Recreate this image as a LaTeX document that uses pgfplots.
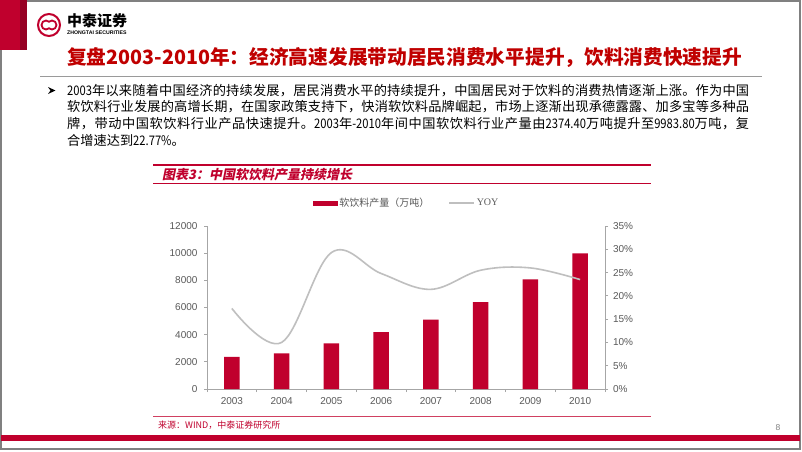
\documentclass[border=0pt]{standalone}
\usepackage{pgfplots}
\pgfplotsset{compat=1.18}
\usepackage{fontspec}
\setmainfont{Liberation Sans}
\newfontfamily\cjk{Noto Sans CJK SC}
\newfontfamily\cjkn{Noto Sans CJK SC}[FakeStretch=0.85]
\newfontfamily\cjkit{Noto Sans CJK SC}[FakeSlant=0.2]
\newfontfamily\serif{Liberation Serif}
\definecolor{barred}{RGB}{192,0,45}
\definecolor{titlered}{RGB}{192,0,0}
\definecolor{linegray}{RGB}{191,191,191}
\definecolor{axisgray}{RGB}{166,166,166}
\definecolor{labelgray}{RGB}{89,89,89}
\definecolor{framegray}{RGB}{128,128,128}

\newcount\cc
\XeTeXinterchartokenstate=1
\ifdefined\newXeTeXintercharclass
  \newXeTeXintercharclass\cjkclass
\else
  \chardef\cjkclass=1
\fi
\def\setcls#1#2{\cc=#1 \loop \XeTeXcharclass\cc=\cjkclass \ifnum\cc<#2 \advance\cc by 1 \repeat}
\setcls{"4E00}{"9FFF}
\setcls{"3000}{"303F}
\setcls{"FF00}{"FFEF}
\XeTeXinterchartoks\cjkclass\cjkclass={\hskip0pt plus 1pt}
\XeTeXinterchartoks 0 \cjkclass={\hskip0pt plus 1pt}
\XeTeXinterchartoks \cjkclass 0={\hskip0pt plus 1pt}

\begin{document}
\begin{tikzpicture}
\path[use as bounding box] (0pt,0pt) rectangle (802pt,-451pt);
\fill[white] (0pt,0pt) rectangle (802pt,-451pt);
\begin{scope}[x=1pt,y=-1pt]
  % frame
  \draw[framegray, line width=1.3pt] (1,1) rectangle (800,449);
  \fill[barred] (0,0) rectangle (27,50);
  \fill[barred!78!black] (20,0) rectangle (27,50);
  % logo
  \draw[barred, line width=2pt] (49,25) circle (11pt);
  \draw[barred, line width=1.8pt] (46,25) ++(45:4.5pt) arc[start angle=45, end angle=315, radius=4.5pt];
  \draw[barred, line width=1.8pt] (52,25) ++(225:4.5pt) arc[start angle=225, end angle=495, radius=4.5pt];
  \node[anchor=west, inner sep=0pt, font=\cjk\bfseries\fontsize{15}{15}\selectfont] at (67,21) {中泰证券};
  \node[anchor=west, inner sep=0pt, font=\bfseries\fontsize{5.2}{6}\selectfont] at (67,33) {ZHONGTAI SECURITIES};
  % title
  \node[anchor=west, inner sep=0pt, text=titlered, font=\cjk\bfseries\fontsize{19.7}{20}\selectfont] at (67,57.5) {\hbox to 668pt{复盘2003-2010年：经济高速发展带动居民消费水平提升，饮料消费快速提升}};
  \draw[framegray!80, line width=1.6pt] (40,76.5) -- (762,76.5);
  % bullet text
  \fill[black] (48,87) -- (55.5,90.5) -- (48,94) -- (50.5,90.5) -- cycle;
  \node[anchor=west, inner sep=0pt, font=\cjk\fontsize{13.2}{14}\selectfont] at (67,90.5) {\hbox to 682pt{{\cjkn 2003}年以来随着中国经济的持续发展，居民消费水平的持续提升，中国居民对于饮料的消费热情逐渐上涨。作为中国}};
  \node[anchor=west, inner sep=0pt, font=\cjk\fontsize{13.2}{14}\selectfont] at (67,107) {\hbox to 682pt{软饮料行业发展的高增长期，在国家政策支持下，快消软饮料品牌崛起，市场上逐渐出现承德露露、加多宝等多种品}};
  \node[anchor=west, inner sep=0pt, font=\cjk\fontsize{13.2}{14}\selectfont] at (67,123.5) {\hbox to 682pt{牌，带动中国软饮料行业产品快速提升。{\cjkn 2003}年{\cjkn -2010}年间中国软饮料行业产量由{\cjkn 2374.40}万吨提升至{\cjkn 9983.80}万吨，复}};
  \node[anchor=west, inner sep=0pt, font=\cjk\fontsize{13.2}{14}\selectfont] at (67,140) {合增速达到{\cjkn 22.77\%}。};
  % chart frame
  \draw[barred, line width=2pt] (153,165) -- (651,165);
  \node[anchor=west, inner sep=0pt, text=barred, font=\cjkit\bfseries\fontsize{13}{13}\selectfont] at (162,175) {图表3：中国软饮料产量持续增长};
  \draw[barred, line width=0.8pt] (153,183.5) -- (651,183.5);
  \draw[barred!75, line width=0.8pt] (153,416.5) -- (651,416.5);
  \node[anchor=west, inner sep=0pt, text=barred, font=\cjk\fontsize{9}{9}\selectfont] at (158,425) {来源：WIND，中泰证券研究所};
  \node[inner sep=0pt, text=framegray, font=\fontsize{8.5}{9}\selectfont] at (778,428) {8};
  \fill[barred] (1,435) rectangle (800,441);
\end{scope}

\begin{axis}[
  at={(207pt,-389pt)}, anchor=south west,
  scale only axis, width=398pt, height=163pt,
  xmin=-0.5, xmax=7.5, ymin=0, ymax=12000,
  axis x line*=bottom, axis y line*=left,
  axis line style={axisgray, line width=0.8pt},
  xtick={-0.5,0.5,...,7.5}, xticklabels={},
  extra x ticks={0,1,2,3,4,5,6,7},
  extra x tick labels={2003,2004,2005,2006,2007,2008,2009,2010},
  extra tick style={major tick length=0pt},
  ytick={0,2000,...,12000},
  scaled y ticks=false,
  tick style={axisgray, line width=0.8pt},
  tick align=outside, major tick length=3pt,
  ticklabel style={font=\fontsize{10}{12}\selectfont, text=labelgray},
  x tick label style={yshift=-5pt},
  y tick label style={xshift=-3pt},
  /pgf/number format/1000 sep={},
  /pgf/number format/assume math mode=true,
  ybar, bar width=15.5pt,
  clip=false,
]
\addplot[fill=barred, draw=none] coordinates {(0,2374.4) (1,2628) (2,3364) (3,4196) (4,5104) (5,6405) (6,8074) (7,9983.8)};
\end{axis}

\begin{axis}[
  at={(207pt,-389pt)}, anchor=south west,
  scale only axis, width=398pt, height=163pt,
  xmin=-0.5, xmax=7.5, ymin=0, ymax=35,
  axis x line=none, axis y line*=right,
  axis line style={axisgray, line width=0.8pt},
  xtick=\empty,
  ytick={0,5,...,35},
  yticklabel={\pgfmathprintnumber{\tick}\%},
  tick style={axisgray, line width=0.8pt},
  tick align=outside, major tick length=3pt,
  ticklabel style={font=\fontsize{10}{12}\selectfont, text=labelgray},
  y tick label style={xshift=1.5pt},
  /pgf/number format/assume math mode=true,
  legend columns=2,
  legend style={at={(0.266,1.141)}, anchor=west, draw=none, fill=none, inner sep=0pt,
    font=\fontsize{10}{10}\selectfont, text=labelgray,
    /tikz/every even column/.append style={column sep=17pt}},
  clip=false,
]
\addlegendimage{legend image code/.code={\fill[barred] (0pt,-1.8pt) rectangle (24pt,1.8pt);}}
\addlegendentry{\cjk 软饮料产量（万吨）}
\addplot[linegray, line width=1.6pt, smooth, tension=0.6,
  legend image code/.code={\draw[linegray, line width=1.3pt] (0pt,0pt) -- (25pt,0pt);}]
  coordinates {(0,17.3) (1,10.0) (2,29.3) (3,24.8) (4,21.4) (5,25.5) (6,26.0) (7,23.5)};
\addlegendentry{\serif YOY}
\end{axis}
\end{tikzpicture}
\end{document}
